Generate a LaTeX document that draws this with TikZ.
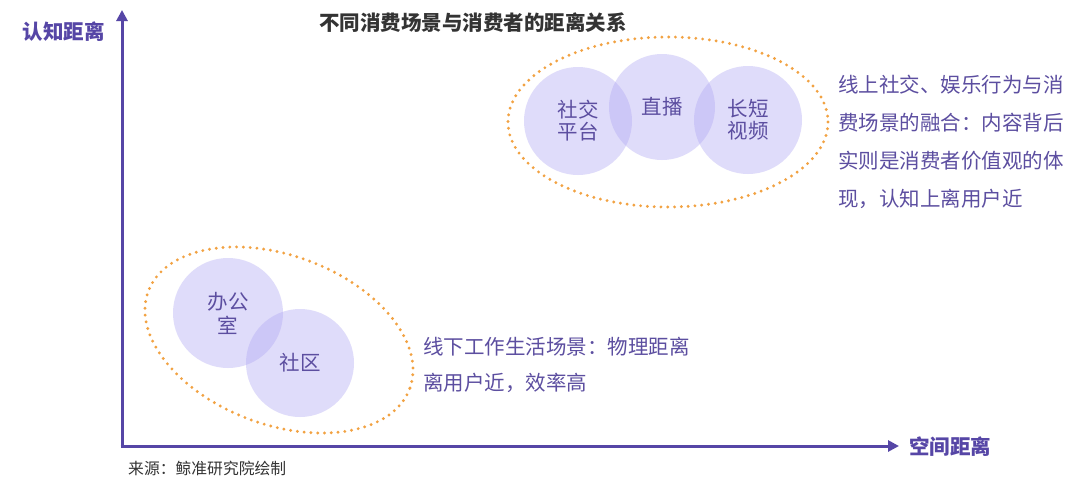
\documentclass[tikz,border=0pt]{standalone}
\usepackage{fontspec}
\setmainfont{Noto Sans CJK SC}
\usetikzlibrary{arrows.meta}
\definecolor{axiscol}{RGB}{86,70,166}
\definecolor{txtpurple}{RGB}{92,78,160}
\definecolor{bubble}{RGB}{177,168,243}
\definecolor{dotorange}{RGB}{242,162,66}
\definecolor{titlegray}{RGB}{51,51,51}
\tikzset{
  axisline/.style={draw=axiscol, line width=3pt, -{Triangle[length=11pt,width=11pt]}},
  axislabel/.style={text=axiscol, font=\fontsize{20.5}{22}\selectfont\bfseries, inner sep=0pt},
  bubblenode/.style={circle, fill=bubble, fill opacity=0.4, text opacity=1, minimum size=#1, inner sep=0pt, text=txtpurple, align=center},
  bubblefont/.style={font=\fontsize{20.5}{22}\selectfont},
  dotring/.style={draw=dotorange, line width=3.2pt, line cap=round, dash pattern=on 0pt off 6.8pt},
  note/.style={text=txtpurple, align=left, inner sep=0pt, anchor=west},
}
\begin{document}
\begin{tikzpicture}[x=1pt,y=-1pt]
\useasboundingbox (0,0) rectangle (1080,499);
\fill[white] (0,0) rectangle (1080,499);
% axes
\coordinate (origin) at (122,446);
\coordinate (ytip) at (122,10);
\coordinate (xtip) at (899,446);
\draw[axisline] (122,447.5) -- (ytip);
\draw[axisline] (120.5,446) -- (xtip);
\node[axislabel] (ylab) at (64,32) {认知距离};
\node[axislabel] (xlab) at (950,447) {空间距离};
% title
\node[inner sep=0pt, text=titlegray, font=\fontsize{20.5}{22}\selectfont\bfseries] (title) at (473,23) {不同消费场景与消费者的距离关系};
% top group
\draw[dotring] (668,122) ellipse [x radius=160, y radius=85];
\node[bubblenode=108pt, bubblefont] (social) at (578,121) {社交\\平台};
\node[bubblenode=106pt, bubblefont] (live) at (662,107) {直播};
\node[bubblenode=108pt, bubblefont] (video) at (748,120) {长短\\视频};
% bottom group
\draw[dotring, rotate around={-20.4:(279,340)}] (279,340) ellipse [x radius=139.5, y radius=84.6];
\node[bubblenode=110pt, font=\fontsize{20.5}{24}\selectfont] (office) at (228,313) {办公\\室};
\node[bubblenode=108pt, bubblefont] (community) at (300,363) {社区};
% notes
\node[note, font=\fontsize{20.5}{38}\selectfont] (topnote) at (838,141.5) {线上社交、娱乐行为与消\\费场景的融合：内容背后\\实则是消费者价值观的体\\现，认知上离用户近};
\node[note, font=\fontsize{20.5}{36}\selectfont] (botnote) at (423,365) {线下工作生活场景：物理距离\\离用户近，效率高};
% source
\node[inner sep=0pt, anchor=west, text=titlegray, font=\fontsize{15.8}{18}\selectfont] (source) at (128,468) {来源：鲸准研究院绘制};
\end{tikzpicture}
\end{document}
